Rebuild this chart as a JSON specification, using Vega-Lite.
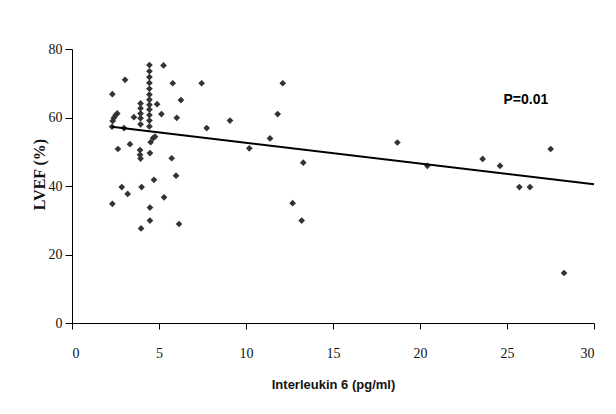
{
  "$schema": "https://vega.github.io/schema/vega-lite/v6.json",
  "width": 522,
  "height": 274,
  "autosize": "none",
  "padding": {"left": 72, "top": 49, "right": 22, "bottom": 91},
  "background": "white",
  "config": {"view": {"stroke": null}},
  "datasets": {
    "pts": [
      {"il6": 2.32, "lvef": 66.8}, {"il6": 3.05, "lvef": 71.0}, {"il6": 2.32, "lvef": 34.8},
      {"il6": 2.34, "lvef": 59.0}, {"il6": 2.41, "lvef": 59.9}, {"il6": 2.51, "lvef": 60.7}, {"il6": 2.6, "lvef": 61.2}, {"il6": 2.3, "lvef": 57.3},
      {"il6": 2.99, "lvef": 56.9},
      {"il6": 4.45, "lvef": 75.3}, {"il6": 4.45, "lvef": 73.5}, {"il6": 4.45, "lvef": 71.8}, {"il6": 4.45, "lvef": 70.1}, {"il6": 4.45, "lvef": 68.4}, {"il6": 4.45, "lvef": 66.7}, {"il6": 4.45, "lvef": 65.2}, {"il6": 4.45, "lvef": 63.7}, {"il6": 4.45, "lvef": 62.3}, {"il6": 4.45, "lvef": 60.7}, {"il6": 4.45, "lvef": 59.1}, {"il6": 4.45, "lvef": 57.4},
      {"il6": 3.94, "lvef": 64.1}, {"il6": 3.94, "lvef": 62.7}, {"il6": 3.94, "lvef": 61.2}, {"il6": 3.94, "lvef": 59.8}, {"il6": 3.94, "lvef": 58.0},
      {"il6": 3.56, "lvef": 60.1},
      {"il6": 5.26, "lvef": 75.2}, {"il6": 5.79, "lvef": 70.0}, {"il6": 7.45, "lvef": 70.0}, {"il6": 6.26, "lvef": 65.1}, {"il6": 4.89, "lvef": 63.9}, {"il6": 5.14, "lvef": 61.0}, {"il6": 6.02, "lvef": 59.9}, {"il6": 7.74, "lvef": 56.9}, {"il6": 9.08, "lvef": 59.1},
      {"il6": 4.66, "lvef": 54.0}, {"il6": 4.52, "lvef": 52.8}, {"il6": 4.77, "lvef": 54.4}, {"il6": 2.64, "lvef": 50.8}, {"il6": 3.33, "lvef": 52.2}, {"il6": 3.91, "lvef": 50.5}, {"il6": 3.91, "lvef": 49.1}, {"il6": 3.94, "lvef": 48.0}, {"il6": 4.48, "lvef": 49.6}, {"il6": 5.73, "lvef": 48.1},
      {"il6": 2.86, "lvef": 39.7}, {"il6": 3.2, "lvef": 37.7}, {"il6": 4.0, "lvef": 39.7}, {"il6": 4.71, "lvef": 41.8}, {"il6": 5.98, "lvef": 43.0}, {"il6": 5.29, "lvef": 36.7}, {"il6": 4.48, "lvef": 33.7}, {"il6": 4.48, "lvef": 29.9}, {"il6": 3.97, "lvef": 27.6}, {"il6": 6.15, "lvef": 28.9},
      {"il6": 12.11, "lvef": 70.0}, {"il6": 11.82, "lvef": 61.0}, {"il6": 11.38, "lvef": 53.9}, {"il6": 10.19, "lvef": 51.0}, {"il6": 13.29, "lvef": 46.8}, {"il6": 12.68, "lvef": 35.0}, {"il6": 13.2, "lvef": 29.9},
      {"il6": 18.7, "lvef": 52.7}, {"il6": 20.42, "lvef": 45.9}, {"il6": 23.6, "lvef": 47.9}, {"il6": 24.6, "lvef": 45.9}, {"il6": 25.71, "lvef": 39.7}, {"il6": 26.32, "lvef": 39.7}, {"il6": 27.51, "lvef": 50.8}, {"il6": 28.28, "lvef": 14.6}
    ],
    "trend": [{"il6": 2.28, "lvef": 57.3}, {"il6": 30, "lvef": 40.5}],
    "note": [{"il6": 24.8, "lvef": 65.1, "label": "P=0.01"}]
  },
  "layer": [
    {
      "data": {"name": "pts"},
      "mark": {"type": "point", "shape": "diamond", "filled": true, "size": 45, "color": "#333333", "opacity": 1},
      "encoding": {
        "x": {
          "field": "il6", "type": "quantitative",
          "scale": {"domain": [0, 30], "nice": false, "zero": false},
          "axis": {
            "title": "Interleukin 6 (pg/ml)", "values": [0, 5, 10, 15, 20, 25, 30],
            "grid": false, "domainColor": "#000000", "tickColor": "#000000", "tickSize": 6,
            "labelFont": "Liberation Serif", "labelFontSize": 14, "labelColor": "#111111", "labelPadding": 17,
            "titleFont": "Liberation Sans", "titleFontSize": 13, "titleFontWeight": "bold", "titleColor": "#111111", "titlePadding": 18
          }
        },
        "y": {
          "field": "lvef", "type": "quantitative",
          "scale": {"domain": [0, 80], "nice": false},
          "axis": {
            "title": "LVEF (%)", "values": [0, 20, 40, 60, 80],
            "grid": false, "domainColor": "#000000", "tickColor": "#000000", "tickSize": 7,
            "labelFont": "Liberation Serif", "labelFontSize": 14, "labelColor": "#111111", "labelPadding": 3,
            "titleFont": "Liberation Serif", "titleFontSize": 16, "titleFontWeight": "bold", "titleColor": "#111111", "titlePadding": 1, "titleY": 125
          }
        }
      }
    },
    {
      "data": {"name": "trend"},
      "mark": {"type": "line", "color": "#000000", "strokeWidth": 2},
      "encoding": {
        "x": {"field": "il6", "type": "quantitative"},
        "y": {"field": "lvef", "type": "quantitative"}
      }
    },
    {
      "data": {"name": "note"},
      "mark": {"type": "text", "align": "left", "baseline": "middle", "font": "Liberation Sans", "fontSize": 14, "fontWeight": "bold", "color": "#000000"},
      "encoding": {
        "x": {"field": "il6", "type": "quantitative"},
        "y": {"field": "lvef", "type": "quantitative"},
        "text": {"field": "label"}
      }
    }
  ]
}
